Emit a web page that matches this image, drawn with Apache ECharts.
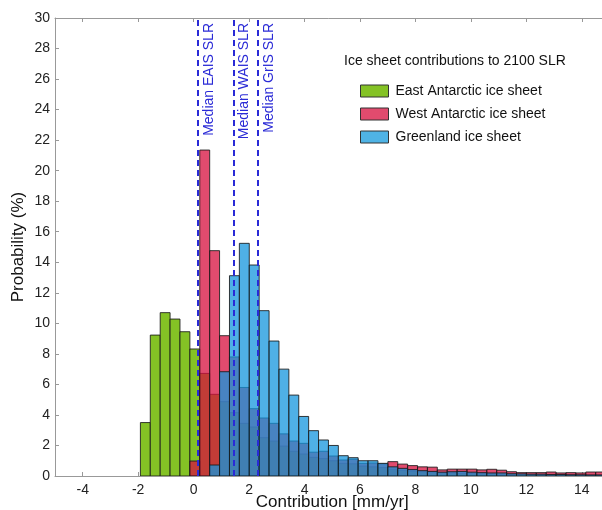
<!DOCTYPE html>
<html>
<head>
<meta charset="utf-8">
<script src="https://cdn.jsdelivr.net/npm/echarts@6/dist/echarts.min.js"></script>
<style>
  html, body { margin: 0; padding: 0; background: #fff; }
  #chart { width: 602px; height: 510px; }
</style>
</head>
<body>
<div id="chart"></div>
<script>
// Histogram bins (mm/yr): left edge of the first bin and the common bin width
const binStart = -1.92;
const binWidth = 0.357;

// Probability (%) per bin, one array per ice sheet
const eais = [3.5, 9.23, 10.7, 10.28, 9.45, 8.32, 6.72, 5.35, 4.87, 4.15, 3.45, 3.21, 2.51, 2.29, 1.96, 1.62,
  1.44, 1.22, 1.14, 1.0, 0.83, 0.8, 0.65, 0.6, 0.55, 0.45, 0.38, 0.32, 0.28, 0.25, 0.2, 0.2,
  0.18, 0.16, 0.15, 0.14, 0.12, 0.1, 0.1, 0.08, 0.08, 0.07, 0.06, 0.06, 0.05, 0.05, 0.05, 0.05];
const wais = [0, 0, 0, 0, 0, 0.98, 21.35, 14.76, 9.19, 7.8, 5.8, 4.41, 3.8, 3.45, 2.76, 2.29,
  2.14, 1.56, 1.62, 1.31, 1.05, 1.1, 0.83, 0.85, 0.8, 0.94, 0.78, 0.68, 0.6, 0.58, 0.4, 0.45,
  0.45, 0.45, 0.4, 0.44, 0.38, 0.28, 0.22, 0.22, 0.22, 0.26, 0.2, 0.22, 0.2, 0.26, 0.26, 0.22];
const gris = [0, 0, 0, 0, 0, 0, 0, 0.72, 6.83, 13.12, 15.24, 13.82, 10.83, 8.84, 7.0, 5.3,
  3.9, 2.97, 2.36, 2.0, 1.33, 1.2, 1.0, 1.0, 0.83, 0.6, 0.5, 0.42, 0.35, 0.3, 0.25, 0.28,
  0.3, 0.25, 0.22, 0.2, 0.2, 0.15, 0.14, 0.12, 0.12, 0.1, 0.1, 0.08, 0.08, 0.07, 0.07, 0.06];

// Median contributions (mm/yr)
const medianNames = ['Median EAIS SLR', 'Median WAIS SLR', 'Median GrIS SLR'];
const medianValues = [0.16, 1.44, 2.32];

const seriesNames = ['East Antarctic ice sheet', 'West Antarctic ice sheet', 'Greenland ice sheet'];
const xTicks = [-4, -2, 0, 2, 4, 6, 8, 10, 12, 14];

const FONT = '"Liberation Sans", Arial, Helvetica, sans-serif';
const fills = ['rgb(132,194,37)', 'rgba(215,15,61,0.75)', 'rgba(20,150,222,0.75)'];
const legendFills = ['rgb(132,194,37)', 'rgb(225,75,110)', 'rgb(79,179,229)'];
const edge = 'rgba(25,25,25,0.85)';

function toBins(values) {
  return values.map((v, i) => [binStart + i * binWidth, binStart + (i + 1) * binWidth, v]);
}

function barRenderer(fill) {
  return function (params, api) {
    const h = api.value(2);
    if (!h) return null;
    const topLeft = api.coord([api.value(0), h]);
    const bottomRight = api.coord([api.value(1), 0]);
    return {
      type: 'rect',
      shape: {
        x: topLeft[0],
        y: topLeft[1],
        width: bottomRight[0] - topLeft[0],
        height: bottomRight[1] - topLeft[1]
      },
      style: { fill: fill, stroke: edge, lineWidth: 1 }
    };
  };
}

const chart = echarts.init(document.getElementById('chart'), null, { renderer: 'canvas' });

const histSeries = [eais, wais, gris].map((vals, k) => ({
  name: seriesNames[k],
  type: 'custom',
  xAxisIndex: 0,
  yAxisIndex: 0,
  clip: true,
  renderItem: barRenderer(fills[k]),
  itemStyle: { color: legendFills[k], borderColor: '#222', borderWidth: 1 },
  encode: { x: [0, 1], y: 2 },
  data: toBins(vals),
  z: 2 + k
}));

const option = {
  animation: false,
  backgroundColor: '#fff',
  textStyle: { fontFamily: FONT },
  grid: { left: 55, top: 18, width: 554.5, height: 458, containLabel: false, outerBoundsMode: 'none' },
  title: {
    text: 'Ice sheet contributions to 2100 SLR',
    left: 339,
    top: 49,
    textStyle: { fontFamily: FONT, fontSize: 14, fontWeight: 'normal', color: '#111' }
  },
  legend: {
    orient: 'vertical',
    left: 355,
    top: 79,
    itemWidth: 28,
    itemHeight: 12,
    itemGap: 9,
    icon: 'rect',
    textStyle: { fontFamily: FONT, fontSize: 14, color: '#111', padding: [0, 0, 0, 2] },
    data: seriesNames.map((n, k) => ({
      name: n,
      itemStyle: { color: legendFills[k], borderColor: '#333', borderWidth: 1 }
    }))
  },
  xAxis: [
    {
      type: 'value',
      min: -5,
      max: 15,
      position: 'bottom',
      name: 'Contribution [mm/yr]',
      nameLocation: 'middle',
      nameGap: 18,
      nameMoveOverlap: false,
      nameTextStyle: { fontFamily: FONT, fontSize: 17, color: '#111' },
      axisLine: { show: true, onZero: false, lineStyle: { color: '#999', width: 1 } },
      axisTick: { show: true, inside: true, length: 4, customValues: xTicks, lineStyle: { color: '#999' } },
      axisLabel: { show: true, customValues: xTicks, margin: 7, fontFamily: FONT, fontSize: 14, color: '#222' },
      splitLine: { show: false }
    },
    {
      type: 'value',
      min: -5,
      max: 15,
      position: 'top',
      axisLine: { show: true, onZero: false, lineStyle: { color: '#999', width: 1 } },
      axisTick: { show: true, inside: true, length: 4, customValues: xTicks, lineStyle: { color: '#999' } },
      axisLabel: { show: false },
      splitLine: { show: false }
    }
  ],
  yAxis: [
    {
      type: 'value',
      min: 0,
      max: 30,
      interval: 2,
      name: 'Probability (%)',
      nameLocation: 'middle',
      nameGap: 28,
      nameMoveOverlap: false,
      nameTextStyle: { fontFamily: FONT, fontSize: 17, color: '#111' },
      axisLine: { show: true, onZero: false, lineStyle: { color: '#999', width: 1 } },
      axisTick: { show: true, inside: true, length: 4, lineStyle: { color: '#999' } },
      axisLabel: { margin: 5, fontFamily: FONT, fontSize: 14, color: '#222' },
      splitLine: { show: false }
    }
  ],
  series: histSeries.concat([{
    name: 'medians',
    type: 'line',
    data: [],
    z: 10,
    markLine: {
      silent: true,
      symbol: 'none',
      lineStyle: { color: '#2a2ad6', type: [6, 4], width: 2 },
      label: {
        show: true,
        formatter: '{b}',
        position: 'insideEndBottom',
        distance: [5, 4],
        fontFamily: FONT,
        fontSize: 14,
        color: '#2a2ad6'
      },
      data: medianValues.map((v, i) => ({ name: medianNames[i], xAxis: v }))
    }
  }])
};

chart.setOption(option);
</script>
</body>
</html>
